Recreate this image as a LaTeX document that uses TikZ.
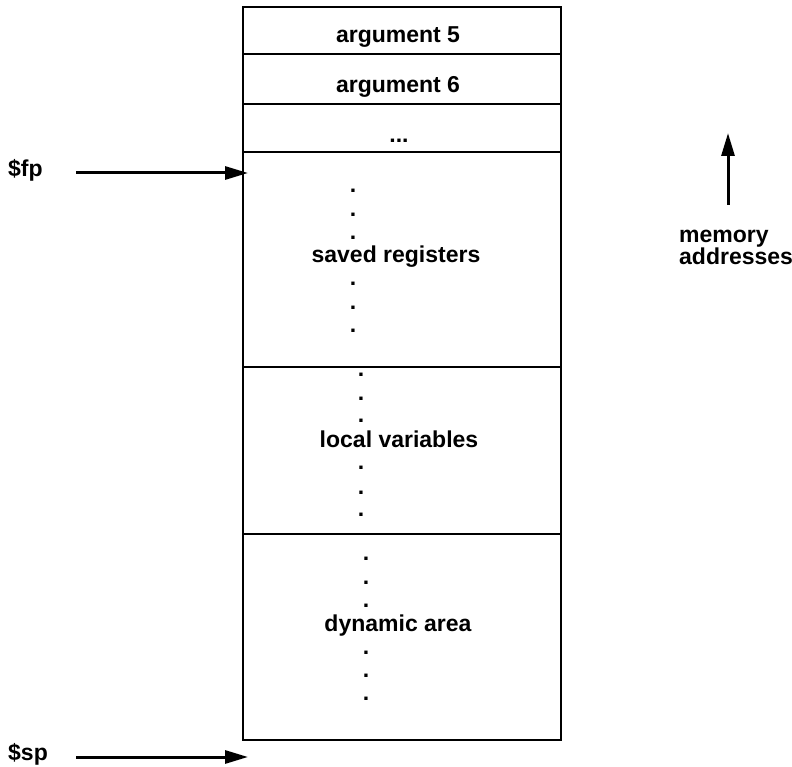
\documentclass[tikz,border=0pt]{standalone}
\usepackage{fontspec}
\setmainfont{Liberation Sans}
\usetikzlibrary{arrows.meta}
\begin{document}
\begin{tikzpicture}[x=1pt,y=-1pt,
  cell/.style={draw,line width=2pt,minimum width=318pt,inner sep=0pt,anchor=north west},
  lbl/.style={font=\fontsize{23}{27}\selectfont\bfseries,inner sep=0pt},
  dotmark/.style={font=\fontsize{23}{27}\selectfont\bfseries,inner sep=0pt,anchor=center},
  ptr/.style={line width=3pt,-{Triangle[length=23pt,width=13pt]}}]
\useasboundingbox (0,0) rectangle (792,767);
% stack cells
\node[cell,minimum height=47.5pt] (arg5) at (242,6) {};
\node[cell,minimum height=49.5pt] (arg6) at (242,53.5) {};
\node[cell,minimum height=48.5pt] (more) at (242,103) {};
\node[cell,minimum height=214.5pt] (saved) at (242,151.5) {};
\node[cell,minimum height=167pt] (local) at (242,366) {};
\node[cell,minimum height=206pt] (dyn) at (242,533) {};
% cell texts
\node[lbl,anchor=base] (targ5) at (398,43) {argument 5};
\node[lbl,anchor=base] (targ6) at (398,93) {argument 6};
\node[lbl,anchor=base] (tmore) at (399,143) {...};
\node[lbl,anchor=base] (tsaved) at (396,263) {saved registers};
\node[lbl,anchor=base] (tlocal) at (399,447) {local variables};
\node[lbl,anchor=base] (tdyn) at (398,631) {dynamic area};
% dots
\foreach \y [count=\i] in {190.7,215,237.7,284,307.3,330.7}
  \node[dotmark] (sd\i) at (353,\y) {.};
\foreach \y [count=\i] in {374.3,399,421,467.7,492.3,514.3}
  \node[dotmark] (ld\i) at (361,\y) {.};
\foreach \y [count=\i] in {559,582.7,605.7,652.3,675.7,698.7}
  \node[dotmark] (dd\i) at (366,\y) {.};
% pointers
\node[lbl,anchor=base west] (fp) at (8,177) {\$fp};
\node[lbl,anchor=base west] (sp) at (8,760) {\$sp};
\coordinate (fpfrom) at (76,173);
\coordinate (fpto) at (248,173);
\coordinate (spfrom) at (76,757);
\coordinate (spto) at (248,757);
\draw[ptr] (fpfrom) -- (fpto);
\draw[ptr] (spfrom) -- (spto);
% memory addresses
\coordinate (memfrom) at (728,205);
\coordinate (memto) at (728,133);
\draw[ptr] (memfrom) -- (memto);
\node[lbl,anchor=base west] (mem1) at (679,243) {memory};
\node[lbl,anchor=base west] (mem2) at (679,265) {addresses};
\end{tikzpicture}
\end{document}
